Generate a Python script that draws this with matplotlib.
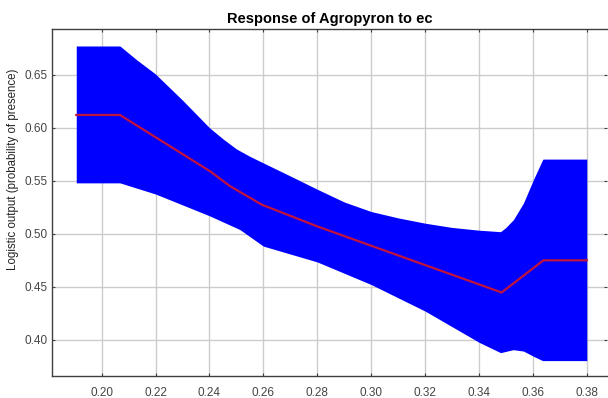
import numpy as np
import matplotlib.pyplot as plt

# response curve for ec
x_mean = [0.1906, 0.2068, 0.2402, 0.2476, 0.2594, 0.2800, 0.3484, 0.3639, 0.3800]
y_mean = [0.612, 0.612, 0.559, 0.545, 0.5275, 0.507, 0.4447, 0.475, 0.475]

x_upper = [0.1906, 0.2068, 0.2130, 0.2198, 0.2300, 0.2400, 0.2450, 0.2500, 0.2550,
           0.2600, 0.2700, 0.2800, 0.2900, 0.3000, 0.3100, 0.3200, 0.3300, 0.3400,
           0.3480, 0.3500, 0.3528, 0.3565, 0.3602, 0.3620, 0.3637, 0.3800]
y_upper = [0.677, 0.677, 0.664, 0.651, 0.626, 0.600, 0.5895, 0.580, 0.5730,
           0.5668, 0.5545, 0.542, 0.530, 0.521, 0.515, 0.510, 0.506, 0.5034,
           0.502, 0.506, 0.5134, 0.529, 0.551, 0.561, 0.5704, 0.5704]

x_lower = [0.1906, 0.2068, 0.2200, 0.2400, 0.2513, 0.2600, 0.2800, 0.3000, 0.3200,
           0.3400, 0.3480, 0.3527, 0.3565, 0.3602, 0.3636, 0.3800]
y_lower = [0.548, 0.548, 0.5375, 0.517, 0.504, 0.4884, 0.4735, 0.4522, 0.4272,
           0.3978, 0.388, 0.3908, 0.3895, 0.3846, 0.3805, 0.3805]

xticks = [0.20, 0.22, 0.24, 0.26, 0.28, 0.30, 0.32, 0.34, 0.36, 0.38]
yticks = [0.40, 0.45, 0.50, 0.55, 0.60, 0.65]

# common x grid so the band can be filled
xx = np.linspace(x_mean[0], x_mean[-1], 800)
up = np.interp(xx, x_upper, y_upper)
lo = np.interp(xx, x_lower, y_lower)

fig = plt.figure(figsize=(6.08, 3.98), dpi=100)
ax = fig.add_axes([52 / 608, 1 - 376 / 398, 555 / 608, 347 / 398])

ax.fill_between(xx, lo, up, color='#0000ff', lw=0, zorder=2)
ax.plot(x_mean, y_mean, color='#c0143c', lw=1.6, zorder=3)

ax.set_xlim(0.1816, 0.3875)
ax.set_ylim(0.366, 0.693)
ax.set_xticks(xticks)
ax.set_xticklabels([f'{v:.2f}' for v in xticks])
ax.set_yticks(yticks)
ax.set_yticklabels([f'{v:.2f}' for v in yticks])

ax.grid(True, color='#cccccc', lw=1.0, zorder=0)
ax.set_axisbelow(True)
for s in ax.spines.values():
    s.set_color('#404040')
    s.set_linewidth(1.0)
ax.spines['right'].set_visible(False)

ax.tick_params(axis='both', direction='in', length=2.5, width=0.8, color='#404040',
               labelsize=8.5, labelcolor='#444444')
ax.tick_params(axis='x', pad=8)
ax.tick_params(axis='y', pad=3.5)
ax.tick_params(top=True, right=True, labeltop=False, labelright=False)
for lab in ax.get_xticklabels() + ax.get_yticklabels():
    lab.set_family('Liberation Sans')

ax.set_title('Response of Agropyron to ec', fontsize=10.5, fontweight='bold',
             family='Liberation Sans', pad=4)
ax.set_ylabel('Logistic output (probability of presence)', fontsize=8.3,
              family='Liberation Sans', color='#222222')
ax.yaxis.set_label_coords(-0.0595, 0.595)

fig.savefig('out.png', dpi=100)
